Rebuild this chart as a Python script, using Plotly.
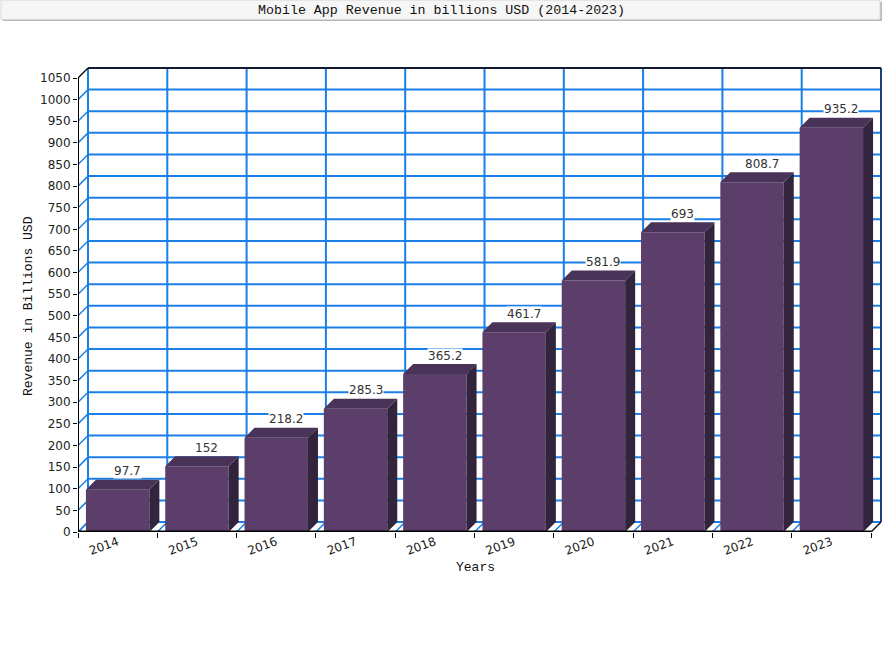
import plotly.graph_objects as go

# ---------------- data ----------------
years = ["2014", "2015", "2016", "2017", "2018", "2019", "2020", "2021", "2022", "2023"]
revenue = [97.7, 152, 218.2, 285.3, 365.2, 461.7, 581.9, 693, 808.7, 935.2]
y_ticks = list(range(0, 1051, 50))
title_text = "Mobile App Revenue in billions USD (2014-2023)"
x_title = "Years"
y_title = "Revenue in Billions USD"

# ---------------- layout constants (pixels) ----------------
W, H = 884, 650
PLOT_L, FRONT_R = 78, 871
FRONT_T, PLOT_B = 78, 532
DEPTH = 10
PAD = 2
YMAX = y_ticks[-1]

n = len(years)
cat_px = (FRONT_R - PLOT_L) / n
x_per_px = 1.0 / cat_px
y_per_px = YMAX / (PLOT_B - FRONT_T)
dxu = DEPTH * x_per_px
dyu = DEPTH * y_per_px

x_lo = -0.5
x_hi = n - 0.5 + (DEPTH + PAD) * x_per_px
y_lo = 0
y_hi = YMAX + (DEPTH + PAD) * y_per_px

m_l = PLOT_L
m_r = W - (FRONT_R + DEPTH + PAD)
m_b = H - PLOT_B
m_t = FRONT_T - DEPTH - PAD
plot_w = W - m_l - m_r
plot_h = H - m_t - m_b


def px_x(px):
    return (px - m_l) / plot_w


def px_y(py):
    return 1 - (py - m_t) / plot_h


FRONT = "#5b3f6a"
TOP = "#4a3358"
SIDE = "#33243e"
GRID = "#1a7fe6"
BAR_W = 0.8

fig = go.Figure()

# front faces
fig.add_trace(go.Bar(
    x=list(range(n)), y=revenue, width=BAR_W,
    marker=dict(color=FRONT, line=dict(width=0)),
    hoverinfo="skip", showlegend=False,
))

# top and side faces
tx, ty, sx, sy = [], [], [], []
for i, v in enumerate(revenue):
    x0, x1 = i - BAR_W / 2, i + BAR_W / 2
    tx += [x0, x1, x1 + dxu, x0 + dxu, x0, None]
    ty += [v, v, v + dyu, v + dyu, v, None]
    sx += [x1, x1 + dxu, x1 + dxu, x1, x1, None]
    sy += [0, dyu, v + dyu, v, 0, None]
fig.add_trace(go.Scatter(x=tx, y=ty, mode="lines", fill="toself", fillcolor=TOP,
                         line=dict(width=0, color=TOP), hoverinfo="skip", showlegend=False))
fig.add_trace(go.Scatter(x=sx, y=sy, mode="lines", fill="toself", fillcolor=SIDE,
                         line=dict(width=0, color=SIDE), hoverinfo="skip", showlegend=False))

shapes = []


def line(x0, y0, x1, y1, color, width, layer="below"):
    shapes.append(dict(type="line", xref="x", yref="y", x0=x0, y0=y0, x1=x1, y1=y1,
                       line=dict(color=color, width=width), layer=layer))


# back-plane horizontal grid
for v in y_ticks:
    line(-0.5 + dxu, v + dyu, n - 0.5 + dxu, v + dyu, GRID, 2)
# back-plane vertical grid
for k in range(n + 1):
    col = "#1c3f7a" if k == n else GRID
    line(k - 0.5 + dxu, dyu, k - 0.5 + dxu, YMAX + dyu, col, 2)
# left wall diagonals
for v in y_ticks:
    col = "#111111" if v == YMAX else GRID
    line(-0.5, v, -0.5 + dxu, v + dyu, col, 1.5)
# floor diagonals
for k in range(n + 1):
    col = "#111111" if k == n else GRID
    line(k - 0.5, 0, k - 0.5 + dxu, dyu, col, 1.5)
# top border
line(-0.5 + dxu, YMAX + dyu, n - 0.5 + dxu, YMAX + dyu, "#111a33", 2)
# front axes
line(-0.5, 0, -0.5, YMAX, "#000000", 2, layer="above")
line(-0.5, 0, n - 0.5, 0, "#000000", 3, layer="above")

# title box (shadow + box)
shapes.append(dict(type="rect", xref="paper", yref="paper",
                   x0=px_x(3), x1=px_x(882), y0=px_y(21), y1=px_y(2),
                   fillcolor="#b8b8b8", line=dict(width=0), layer="above"))
shapes.append(dict(type="rect", xref="paper", yref="paper",
                   x0=px_x(1), x1=px_x(880), y0=px_y(19.5), y1=px_y(0),
                   fillcolor="#f6f6f6", line=dict(color="#d6d6d6", width=1), layer="above"))

annotations = []
# value labels
for i, v in enumerate(revenue):
    annotations.append(dict(
        x=i + dxu, y=v + dyu, xref="x", yref="y", yshift=8.5,
        xanchor="center", yanchor="middle",
        text=f"{v:g}", showarrow=False, bgcolor="#ffffff", borderpad=0,
        font=dict(family="DejaVu Sans", size=12, color="#333333"),
    ))
# title
annotations.append(dict(x=px_x(441), y=px_y(10.5), xref="paper", yref="paper",
                        xanchor="center", yanchor="middle",
                        text=title_text, showarrow=False,
                        font=dict(family="Liberation Mono", size=13.3, color="#111111")))
# axis titles
annotations.append(dict(x=px_x(475), y=px_y(567), xref="paper", yref="paper",
                        xanchor="center", yanchor="middle",
                        text=x_title, showarrow=False,
                        font=dict(family="Liberation Mono", size=13, color="#111111")))
annotations.append(dict(x=px_x(28), y=px_y(306), xref="paper", yref="paper",
                        xanchor="center", yanchor="middle",
                        text=y_title, showarrow=False, textangle=-90,
                        font=dict(family="Liberation Mono", size=13, color="#111111")))

fig.update_layout(
    width=W, height=H,
    margin=dict(l=m_l, r=m_r, t=m_t, b=m_b, pad=0),
    paper_bgcolor="#ffffff", plot_bgcolor="#ffffff",
    showlegend=False,
    shapes=shapes, annotations=annotations,
    xaxis=dict(
        range=[x_lo, x_hi], tickmode="array", tickvals=list(range(n)), ticktext=years,
        ticks="", showgrid=False, zeroline=False, showline=False, tickangle=-20,
        tickfont=dict(family="DejaVu Sans", size=12, color="#222222"),
        minor=dict(tickmode="array", tickvals=[k - 0.5 for k in range(n + 1)],
                   ticks="outside", ticklen=5, tickcolor="#000000", tickwidth=1, showgrid=False),
        fixedrange=True,
    ),
    yaxis=dict(
        range=[y_lo, y_hi], tickmode="array", tickvals=y_ticks,
        ticks="outside", ticklen=4, tickcolor="#000000", tickwidth=1,
        showgrid=False, zeroline=False, showline=False,
        tickfont=dict(family="DejaVu Sans", size=12, color="#222222"),
        fixedrange=True,
    ),
)

fig.write_html("out.html", config={"displayModeBar": False},
               post_script="document.body.style.margin='0';")
